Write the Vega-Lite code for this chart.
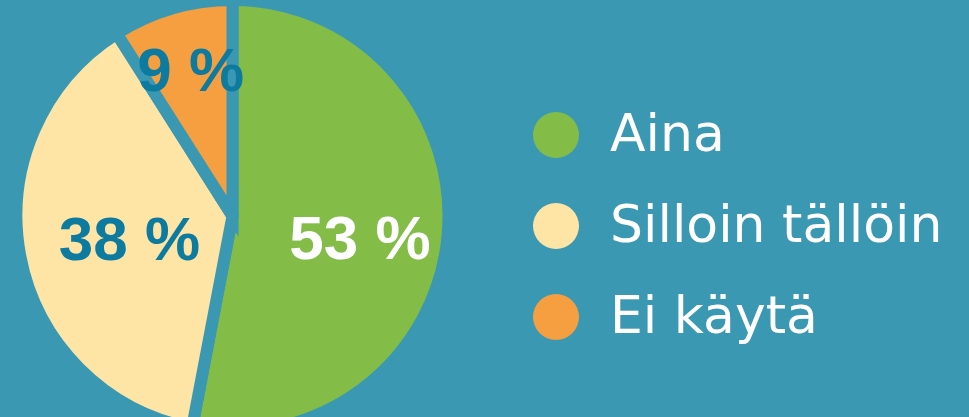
{
  "$schema": "https://vega.github.io/schema/vega-lite/v6.json",
  "autosize": "none",
  "width": 465,
  "height": 432,
  "padding": {"left": 0, "top": 0, "right": 504, "bottom": 0},
  "background": "#3b98b3",
  "view": {"stroke": null},
  "data": {
    "values": [
      {"vastaus": "Aina", "osuus": 53, "teksti": "53 %", "jarjestys": 1},
      {"vastaus": "Silloin tällöin", "osuus": 38, "teksti": "38 %", "jarjestys": 2},
      {"vastaus": "Ei käytä", "osuus": 9, "teksti": "9 %", "jarjestys": 3}
    ]
  },
  "encoding": {
    "theta": {"field": "osuus", "type": "quantitative", "stack": true},
    "order": {"field": "jarjestys", "type": "quantitative"}
  },
  "layer": [
    {
      "mark": {"type": "arc", "outerRadius": 216, "stroke": "#3b98b3", "strokeWidth": 12},
      "encoding": {
        "color": {
          "field": "vastaus",
          "type": "nominal",
          "sort": ["Aina", "Silloin tällöin", "Ei käytä"],
          "scale": {
            "domain": ["Aina", "Silloin tällöin", "Ei käytä"],
            "range": ["#83bd48", "#fee5a5", "#f59f41"]
          },
          "legend": {
            "title": null,
            "orient": "none",
            "legendX": 530,
            "legendY": 109,
            "padding": 0,
            "symbolType": "circle",
            "symbolSize": 2116,
            "symbolStrokeWidth": 0,
            "symbolStrokeColor": "transparent",
            "symbolOpacity": 1,
            "labelFont": "DejaVu Sans",
            "labelFontSize": 52,
            "labelColor": "#ffffff",
            "labelOffset": 28,
            "labelLimit": 500,
            "rowPadding": 39
          }
        }
      }
    },
    {
      "mark": {
        "type": "text",
        "font": "Liberation Sans",
        "fontWeight": "bold",
        "fontSize": 62,
        "baseline": "middle",
        "align": "center",
        "radius": {"expr": "datum.vastaus === 'Aina' ? 128 : (datum.vastaus === 'Ei käytä' ? 150 : 105)"},
        "dy": {"expr": "datum.vastaus === 'Aina' ? 12 : (datum.vastaus === 'Ei käytä' ? 0 : 5)"}
      },
      "encoding": {
        "text": {"field": "teksti", "type": "nominal"},
        "color": {
          "condition": {"test": "datum.vastaus === 'Aina'", "value": "#ffffff"},
          "value": "#0d7a9f"
        }
      }
    }
  ]
}
